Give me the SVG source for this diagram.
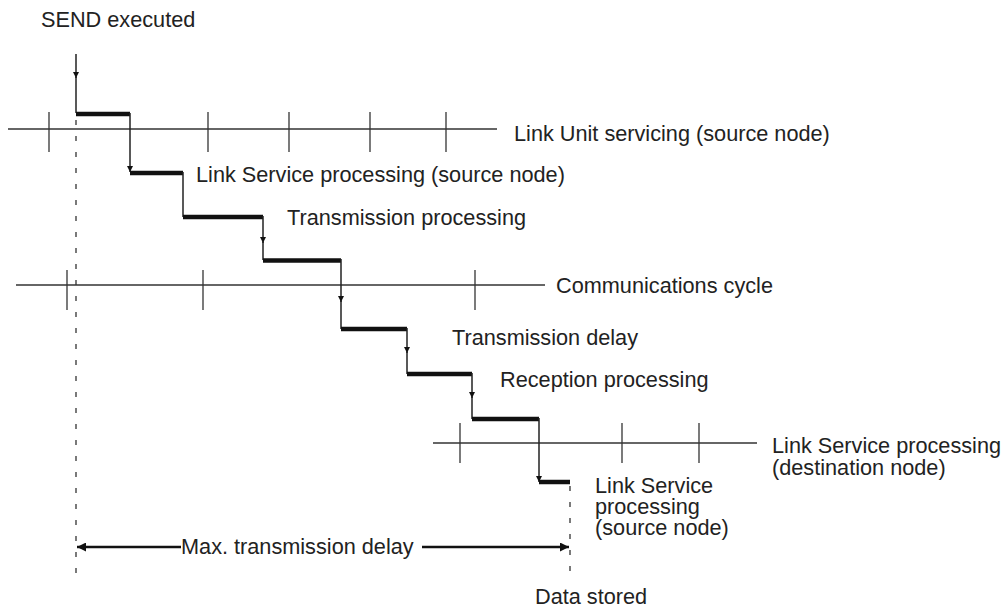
<svg xmlns="http://www.w3.org/2000/svg" width="1005" height="609" viewBox="0 0 1005 609">
<style>
text{font-family:"Liberation Sans",Arial,sans-serif;font-size:21.7px;fill:#222}
.ml{font-size:20.5px}
.ln{stroke:#333;stroke-width:1.3;fill:none}
.bar{stroke:#111;stroke-width:4.5;fill:none}
.v{stroke:#222;stroke-width:1.5;fill:none}
.dash{stroke:#333;stroke-width:1.3;stroke-dasharray:5 11;fill:none}
.big{stroke:#111;stroke-width:2.6;fill:none}
</style>
<defs>
<marker id="ah" viewBox="0 0 10 10" refX="10" refY="5" markerWidth="10" markerHeight="6" markerUnits="userSpaceOnUse" orient="auto">
<path d="M0,0 L10,5 L0,10 Z" fill="#111"/>
</marker>
<marker id="bh" viewBox="0 0 10 10" refX="10" refY="5" markerWidth="17" markerHeight="9" markerUnits="userSpaceOnUse" orient="auto">
<path d="M0,0 L10,5 L0,10 Z" fill="#111"/>
</marker>
</defs>

<g id="timeline-link-unit">
<line class="ln" x1="8" y1="129" x2="497" y2="129"/>
<line class="ln" x1="49" y1="112" x2="49" y2="152"/>
<line class="ln" x1="208" y1="112" x2="208" y2="152"/>
<line class="ln" x1="289" y1="112" x2="289" y2="152"/>
<line class="ln" x1="370" y1="112" x2="370" y2="152"/>
<line class="ln" x1="446" y1="112" x2="446" y2="152"/>
<text x="514" y="141">Link Unit servicing (source node)</text>
</g>

<g id="timeline-comm-cycle">
<line class="ln" x1="16" y1="285" x2="545" y2="285"/>
<line class="ln" x1="67" y1="270" x2="67" y2="310"/>
<line class="ln" x1="203" y1="270" x2="203" y2="310"/>
<line class="ln" x1="475" y1="270" x2="475" y2="310"/>
<text x="556" y="293">Communications cycle</text>
</g>

<g id="timeline-dest">
<line class="ln" x1="433" y1="443" x2="757" y2="443"/>
<line class="ln" x1="460" y1="423" x2="460" y2="463"/>
<line class="ln" x1="622" y1="423" x2="622" y2="463"/>
<line class="ln" x1="699" y1="423" x2="699" y2="463"/>
<text x="772" y="453">Link Service processing</text>
<text x="772" y="475">(destination node)</text>
</g>

<g id="send-executed">
<text x="41" y="27">SEND executed</text>
<line class="v" x1="76" y1="54" x2="76" y2="78" marker-end="url(#ah)"/>
<line class="v" x1="76" y1="76" x2="76" y2="113"/>
</g>

<g id="connectors">
<line class="dash" x1="76" y1="120" x2="76" y2="584"/>
<line class="dash" x1="570" y1="486" x2="570" y2="572"/>
<line class="bar" x1="76" y1="114" x2="130" y2="114"/>
<line class="v" x1="130" y1="113" x2="130" y2="172" marker-end="url(#ah)"/>
<line class="bar" x1="130" y1="173" x2="183" y2="173"/>
<line class="v" x1="183" y1="172" x2="183" y2="217"/>
<line class="bar" x1="183" y1="217" x2="263" y2="217"/>
<line class="v" x1="263" y1="216" x2="263" y2="243" marker-end="url(#ah)"/>
<line class="v" x1="263" y1="241" x2="263" y2="260"/>
<line class="bar" x1="263" y1="260.5" x2="341" y2="260.5"/>
<line class="v" x1="341" y1="259" x2="341" y2="302" marker-end="url(#ah)"/>
<line class="v" x1="341" y1="300" x2="341" y2="329"/>
<line class="bar" x1="341" y1="329" x2="407" y2="329"/>
<line class="v" x1="407" y1="328" x2="407" y2="353" marker-end="url(#ah)"/>
<line class="v" x1="407" y1="351" x2="407" y2="374"/>
<line class="bar" x1="407" y1="374" x2="472" y2="374"/>
<line class="v" x1="472" y1="373" x2="472" y2="398" marker-end="url(#ah)"/>
<line class="v" x1="472" y1="396" x2="472" y2="419"/>
<line class="bar" x1="472" y1="419" x2="539" y2="419"/>
<line class="v" x1="539" y1="418" x2="539" y2="482" marker-end="url(#ah)"/>
<line class="bar" x1="539" y1="482" x2="570" y2="482"/>
<line class="big" x1="181" y1="547" x2="77" y2="547" marker-end="url(#bh)"/>
<line class="big" x1="422" y1="547" x2="569" y2="547" marker-end="url(#bh)"/>
</g>

<g id="labels">
<text x="196" y="182">Link Service processing (source node)</text>
<text x="287" y="225">Transmission processing</text>
<text x="452" y="345">Transmission delay</text>
<text x="500" y="387">Reception processing</text>
<text x="595" y="493">Link Service</text>
<text x="595" y="514">processing</text>
<text x="595" y="535">(source node)</text>
<text x="181" y="554">Max. transmission delay</text>
<text x="535" y="604">Data stored</text>
</g>
</svg>
